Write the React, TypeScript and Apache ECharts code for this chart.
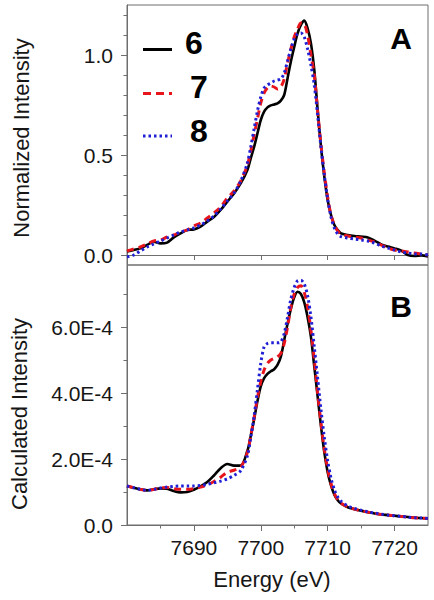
import React, { useEffect, useRef } from "react";
import * as echarts from "echarts";

// Energy grid (eV)
const energy = [
  7680, 7681, 7682, 7683, 7684, 7685, 7686, 7687, 7688, 7689, 7690, 7691, 7692, 7693, 7694, 7695, 7696, 7697,
  7698, 7698.5, 7699, 7699.5, 7700, 7700.5, 7701, 7701.5, 7702, 7702.5, 7703, 7703.5, 7704, 7704.5, 7705, 7705.5,
  7706, 7706.5, 7707, 7707.5, 7708, 7708.5, 7709, 7709.5, 7710, 7710.5, 7711, 7711.5, 7712,
  7713, 7714, 7715, 7716, 7717, 7718, 7719, 7720, 7721, 7722, 7723, 7724, 7725,
];

// Panel A: normalized intensity
const norm6 = [
  0.017, 0.025, 0.033, 0.05, 0.067, 0.058, 0.062, 0.088, 0.108, 0.125, 0.128, 0.142, 0.167, 0.19, 0.225, 0.267, 0.308, 0.358,
  0.425, 0.483, 0.54, 0.608, 0.675, 0.717, 0.738, 0.748, 0.753, 0.758, 0.772, 0.8, 0.883, 0.967, 1.04, 1.108,
  1.15, 1.172, 1.133, 1.058, 0.925, 0.725, 0.542, 0.392, 0.275, 0.2, 0.15, 0.125, 0.108,
  0.1, 0.095, 0.092, 0.088, 0.072, 0.053, 0.042, 0.033, 0.022, 0.0, -0.005, -0.002, -0.008,
];
const norm7 = [
  0.02, 0.03, 0.04, 0.055, 0.07, 0.075, 0.09, 0.1, 0.115, 0.125, 0.145, 0.16, 0.185, 0.21, 0.24, 0.285, 0.32, 0.37,
  0.45, 0.52, 0.6, 0.68, 0.76, 0.81, 0.835, 0.845, 0.84, 0.83, 0.84, 0.88, 0.96, 1.03, 1.09, 1.13,
  1.16, 1.155, 1.1, 1.0, 0.9, 0.72, 0.55, 0.41, 0.29, 0.2, 0.15, 0.12, 0.105,
  0.095, 0.09, 0.085, 0.075, 0.065, 0.05, 0.035, 0.025, 0.02, 0.015, 0.01, 0.005, 0.0,
];
const norm8 = [
  -0.01, 0.0, 0.02, 0.04, 0.055, 0.07, 0.085, 0.1, 0.115, 0.125, 0.135, 0.15, 0.17, 0.195, 0.23, 0.27, 0.31, 0.37,
  0.46, 0.54, 0.63, 0.72, 0.79, 0.835, 0.85, 0.86, 0.87, 0.875, 0.88, 0.91, 0.97, 1.03, 1.08, 1.105,
  1.11, 1.09, 1.03, 0.95, 0.85, 0.7, 0.54, 0.4, 0.28, 0.19, 0.135, 0.105, 0.092,
  0.085, 0.08, 0.075, 0.07, 0.06, 0.045, 0.035, 0.025, 0.015, 0.01, 0.005, 0.005, 0.0,
];

// Panel B: calculated intensity, in units of 1E-4
const calc6E4 = [
  1.18, 1.13, 1.08, 1.05, 1.08, 1.11, 1.1, 1.03, 0.99, 1.0, 1.07, 1.17, 1.3, 1.5, 1.72, 1.85, 1.8, 1.8,
  2.25, 2.7, 3.2, 3.75, 4.2, 4.45, 4.58, 4.66, 4.72, 4.85, 5.1, 5.6, 6.1, 6.55, 6.9, 7.07,
  7.0, 6.75, 6.3, 5.7, 4.8, 3.9, 3.0, 2.2, 1.6, 1.2, 0.92, 0.75, 0.65,
  0.54, 0.48, 0.43, 0.39, 0.35, 0.32, 0.3, 0.28, 0.26, 0.24, 0.22, 0.21, 0.2,
];
const calc7E4 = [
  1.18, 1.13, 1.08, 1.05, 1.08, 1.12, 1.14, 1.1, 1.08, 1.08, 1.1, 1.15, 1.22, 1.32, 1.45, 1.6, 1.66, 1.75,
  2.2, 2.7, 3.25, 3.85, 4.35, 4.7, 4.9, 5.0, 5.05, 5.1, 5.2, 5.5, 6.0, 6.6, 7.0, 7.2,
  7.25, 7.05, 6.6, 5.9, 5.0, 4.0, 3.1, 2.3, 1.7, 1.25, 0.95, 0.77, 0.66,
  0.55, 0.48, 0.43, 0.39, 0.35, 0.32, 0.3, 0.28, 0.26, 0.24, 0.22, 0.21, 0.2,
];
const calc8E4 = [
  1.18, 1.13, 1.08, 1.05, 1.08, 1.12, 1.15, 1.17, 1.18, 1.18, 1.18, 1.2, 1.23, 1.28, 1.33, 1.4, 1.5, 1.65,
  2.1, 2.65, 3.3, 4.1, 4.9, 5.4, 5.5, 5.52, 5.52, 5.52, 5.55, 5.8, 6.3, 6.85, 7.2, 7.4,
  7.42, 7.3, 6.95, 6.3, 5.4, 4.45, 3.5, 2.65, 1.95, 1.42, 1.07, 0.85, 0.72,
  0.58, 0.5, 0.45, 0.4, 0.36, 0.33, 0.3, 0.28, 0.26, 0.24, 0.22, 0.21, 0.2,
];

const seriesNames = ["6", "7", "8"];
const panelLabels = ["A", "B"];
const xMajor = [7690, 7700, 7710, 7720];
const xMinor = [7685, 7695, 7705, 7715];
const normMajor = [0, 0.5, 1.0];
const normMinor = [0.1, 0.2, 0.3, 0.4, 0.6, 0.7, 0.8, 0.9, 1.1, 1.2];
const calcMajor = [0, 2e-4, 4e-4, 6e-4];
const calcMinor = [1e-4, 3e-4, 5e-4, 7e-4];

const FONT = '"Liberation Sans", Arial, Helvetica, sans-serif';
const AXIS = "#6e6e6e";
const TEXT = "#161616";
const COLORS = ["#000000", "#e8141b", "#1f1fd6"];
const LINE_STYLES: any[] = [
  { width: 2.6, type: "solid" },
  { width: 3, type: [7, 5] },
  { width: 3, type: [2.5, 3] },
];

function pairs(ys: number[], scale = 1) {
  return energy.map((e, i) => [e, ys[i] * scale]);
}

export default function App() {
  const ref = useRef<HTMLDivElement>(null);
  useEffect(() => {
    document.body.style.margin = "0";
    if (!ref.current) return;
    const chart = echarts.init(ref.current, null, { renderer: "svg" });

    const gridTop = { left: 127, top: 5, width: 301, height: 260 };
    const gridBot = { left: 127, top: 265, width: 301, height: 260 };

    const xBase = (gridIndex: number) => ({
      type: "value",
      gridIndex,
      position: "bottom",
      min: 7680,
      max: 7725,
      splitLine: { show: false },
    });
    const yBase = (gridIndex: number, min: number, max: number) => ({
      type: "value",
      gridIndex,
      position: "left",
      min,
      max,
      splitLine: { show: false },
    });

    const xAxis: any[] = [
      {
        ...xBase(0),
        axisLine: { show: true, lineStyle: { color: AXIS, width: 1 } },
        axisTick: { show: true, customValues: xMajor, length: 5, lineStyle: { color: AXIS } },
        axisLabel: { show: false },
      },
      {
        ...xBase(1),
        axisLine: { show: true, lineStyle: { color: AXIS, width: 1 } },
        axisTick: { show: true, customValues: xMajor, length: 6, lineStyle: { color: AXIS } },
        axisLabel: {
          show: true,
          customValues: xMajor,
          margin: 12,
          color: TEXT,
          fontSize: 21,
          fontFamily: FONT,
          formatter: (v: number) => String(v),
        },
      },
      {
        ...xBase(1),
        axisLine: { show: false },
        axisTick: { show: true, customValues: xMinor, length: 3.5, lineStyle: { color: AXIS } },
        axisLabel: { show: false },
      },
    ];

    const yAxis: any[] = [
      {
        ...yBase(0, -0.05, 1.25),
        axisLine: { show: true, lineStyle: { color: AXIS, width: 1 } },
        axisTick: { show: true, customValues: normMajor, length: 6, lineStyle: { color: AXIS } },
        axisLabel: {
          show: true,
          customValues: normMajor,
          margin: 14,
          color: TEXT,
          fontSize: 21,
          fontFamily: FONT,
          formatter: (v: number) => v.toFixed(1),
        },
      },
      {
        ...yBase(0, -0.05, 1.25),
        axisLine: { show: false },
        axisTick: { show: true, customValues: normMinor, length: 3.5, lineStyle: { color: AXIS } },
        axisLabel: { show: false },
      },
      {
        ...yBase(1, 0, 7.88e-4),
        axisLine: { show: true, lineStyle: { color: AXIS, width: 1 } },
        axisTick: { show: true, customValues: calcMajor, length: 6, lineStyle: { color: AXIS } },
        axisLabel: {
          show: true,
          customValues: calcMajor,
          margin: 14,
          color: TEXT,
          fontSize: 21,
          fontFamily: FONT,
          formatter: (v: number) => (v === 0 ? "0.0" : (v / 1e-4).toFixed(1) + "E-4"),
        },
      },
      {
        ...yBase(1, 0, 7.88e-4),
        axisLine: { show: false },
        axisTick: { show: true, customValues: calcMinor, length: 3.5, lineStyle: { color: AXIS } },
        axisLabel: { show: false },
      },
    ];

    const topData = [norm6, norm7, norm8];
    const botData = [calc6E4, calc7E4, calc8E4];
    const series: any[] = [];
    seriesNames.forEach((name, i) => {
      series.push({
        name,
        type: "line",
        xAxisIndex: 0,
        yAxisIndex: 0,
        data: pairs(topData[i]),
        symbol: "none",
        smooth: 0.3,
        lineStyle: { color: COLORS[i], ...LINE_STYLES[i] },
        itemStyle: { color: COLORS[i] },
        z: 2 + i,
      });
    });
    seriesNames.forEach((name, i) => {
      series.push({
        name,
        type: "line",
        xAxisIndex: 1,
        yAxisIndex: 2,
        data: pairs(botData[i], 1e-4),
        symbol: "none",
        smooth: 0.3,
        lineStyle: { color: COLORS[i], ...LINE_STYLES[i] },
        itemStyle: { color: COLORS[i] },
        z: 2 + i,
      });
    });

    const legendY = [43, 87, 131];
    const legendX = [194, 199, 199];
    const legendLineY = [49.5, 93.5, 136];
    const graphic: any[] = [];
    seriesNames.forEach((name, i) => {
      graphic.push({
        type: "line",
        shape: { x1: 143, y1: legendLineY[i], x2: 172, y2: legendLineY[i] },
        style: {
          stroke: COLORS[i],
          lineWidth: 3,
          lineDash: i === 0 ? null : i === 1 ? [8, 5] : [2.5, 3],
        },
      });
      graphic.push({
        type: "text",
        x: legendX[i],
        y: legendY[i],
        style: {
          text: name,
          align: "center",
          verticalAlign: "middle",
          fontSize: 32,
          fontWeight: "bold",
          fontFamily: FONT,
          fill: "#000",
        },
      });
    });
    const panelY = [38, 306.5];
    panelLabels.forEach((t, i) => {
      graphic.push({
        type: "text",
        x: 401,
        y: panelY[i],
        style: {
          text: t,
          align: "center",
          verticalAlign: "middle",
          fontSize: 30,
          fontWeight: "bold",
          fontFamily: FONT,
          fill: "#000",
        },
      });
    });
    graphic.push({
      type: "text",
      x: 21,
      y: 138,
      rotation: Math.PI / 2,
      style: {
        text: "Normalized Intensity",
        align: "center",
        verticalAlign: "middle",
        fontSize: 22,
        fontFamily: FONT,
        fill: TEXT,
      },
    });
    graphic.push({
      type: "text",
      x: 19,
      y: 414,
      rotation: Math.PI / 2,
      style: {
        text: "Calculated Intensity",
        align: "center",
        verticalAlign: "middle",
        fontSize: 22,
        fontFamily: FONT,
        fill: TEXT,
      },
    });
    graphic.push({
      type: "text",
      x: 272,
      y: 579,
      style: {
        text: "Energy (eV)",
        align: "center",
        verticalAlign: "middle",
        fontSize: 22,
        fontFamily: FONT,
        fill: TEXT,
      },
    });

    chart.setOption({
      animation: false,
      backgroundColor: "#ffffff",
      grid: [
        { ...gridTop, show: true, borderColor: AXIS, borderWidth: 1, backgroundColor: "transparent" },
        { ...gridBot, show: true, borderColor: AXIS, borderWidth: 1, backgroundColor: "transparent" },
      ],
      xAxis,
      yAxis,
      series,
      graphic,
    });
    return () => chart.dispose();
  }, []);
  return <div ref={ref} style={{ width: 434, height: 600 }} />;
}
